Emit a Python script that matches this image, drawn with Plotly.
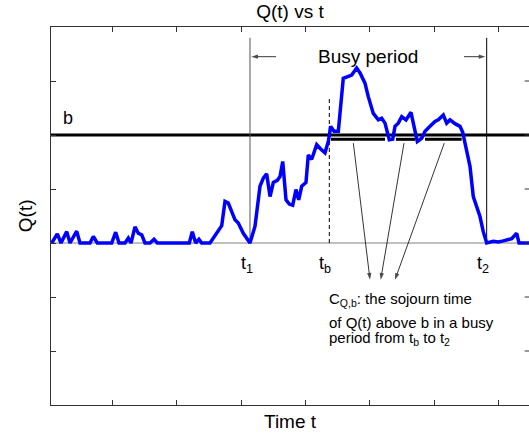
import plotly.graph_objects as go

# ---- data ----
t_vals = [6.1, 14.8, 20.5, 29.4, 34.5, 44.9, 50.0, 65.5, 70.7, 76.9, 99.2, 105.4, 110.6,
          119.9, 125.0, 129.2, 135.4, 140.5, 145.8, 150.9, 158.7, 164.9, 170.0, 219.7,
          224.3, 229.6, 234.7, 238.9, 251.8, 259.6, 270.0, 275.1, 280.2, 285.5, 290.6,
          295.7, 303.5, 313.9, 321.7, 329.4, 334.6, 339.8, 345.0, 350.1, 356.3, 360.5,
          364.7, 369.8, 374.9, 380.2, 385.3, 389.5, 394.2, 400.8, 404.4, 409.7, 417.4,
          423.6, 430.3, 435.5, 439.2, 444.3, 451.0, 458.7, 464.9, 471.8, 479.5, 484.7,
          492.4, 497.5, 505.3, 513.1, 518.3, 523.5, 530.1, 535.4, 539.0, 544.1, 549.4,
          556.1, 563.8, 570.0, 573.6, 580.4, 585.6, 593.3, 601.1, 606.2, 614.0, 619.2,
          624.4, 632.1, 639.9, 644.1, 650.3, 655.4, 660.5, 666.7, 670.9, 676.0, 681.3,
          691.6, 699.4, 707.1, 714.9, 720.2, 727.9, 731.5, 747.0]
q_vals = [0, 0.17, 0, 0.21, 0, 0.22, 0, 0, 0.12, 0, 0, 0.20, 0,
          0, 0.09, 0, 0.30, 0.18, 0.15, 0, 0, 0.07, 0, 0,
          0.21, 0, 0.07, 0, 0, 0.13, 0.32, 0.77, 0.74, 0.58, 0.43,
          0.37, 0.18, 0, 0.31, 1.05, 1.20, 1.28, 0.86, 1.12, 1.16, 1.23,
          1.51, 0.80, 0.72, 0.70, 0.99, 0.80, 1.05, 1.12, 1.63, 1.55, 1.82,
          1.74, 1.67, 1.88, 2.16, 2.07, 2.07, 3.05, 3.08, 3.11, 3.24, 3.15,
          2.96, 2.71, 2.40, 2.28, 2.31, 2.22, 1.91, 1.92, 2.16, 2.22, 2.34,
          2.28, 2.42, 2.05, 1.88, 1.94, 2.07, 2.16, 2.25, 2.28, 2.37, 2.22,
          2.28, 2.21, 2.16, 2.05, 1.67, 1.42, 0.86, 0.62, 0.49, 0.21, 0,
          0.03, 0.02, 0.04, 0.06, 0.08, 0.18, 0, 0]

b_level = 2
t1, tb, t2 = 313.9, 437.0, 681.3
vline_top = 3.8
tb_top = 2.7

seg_start = [439.6, 540.5, 585.6]
seg_end = [523.5, 570.0, 642.5]
seg_level = 1.92

arrow_tail_x = [474.3, 553.0, 615.5]
arrow_tail_y = 1.85
arrow_head_x = [500.2, 516.8, 539.0]
arrow_head_y = -0.68

busy_y = 3.45
busy_left_tail, busy_right_tail = 354.3, 646.1

x_range = [5, 747]
y_range = [-3, 4]
x_ticks = [100, 200, 300, 400, 500, 600, 700]
y_ticks = [-2, -1, 0, 1, 2, 3]

FONT = "Liberation Sans, Arial, Helvetica, sans-serif"
AX = "#333333"

fig = go.Figure()

# zero line and b threshold
fig.add_trace(go.Scatter(x=x_range, y=[0, 0], mode="lines",
                         line=dict(color="#808080", width=1), hoverinfo="skip", showlegend=False))
fig.add_trace(go.Scatter(x=x_range, y=[b_level, b_level], mode="lines",
                         line=dict(color="black", width=3), hoverinfo="skip", showlegend=False))

# vertical markers
fig.add_trace(go.Scatter(x=[t1, t1], y=[0, vline_top], mode="lines",
                         line=dict(color="#555555", width=1), showlegend=False))
fig.add_trace(go.Scatter(x=[t2, t2], y=[0, vline_top], mode="lines",
                         line=dict(color="black", width=1), showlegend=False))
fig.add_trace(go.Scatter(x=[tb, tb], y=[0, tb_top], mode="lines",
                         line=dict(color="black", width=1, dash="4px,3px"), showlegend=False))

# Q(t)
fig.add_trace(go.Scatter(x=t_vals, y=q_vals, mode="lines",
                         line=dict(color="#0000FF", width=3.5), showlegend=False))

# sojourn segments
for s, e in zip(seg_start, seg_end):
    fig.add_trace(go.Scatter(x=[s, e], y=[seg_level, seg_level], mode="lines",
                             line=dict(color="black", width=3), showlegend=False))


def arrow(x0, y0, x1, y1):
    fig.add_trace(go.Scatter(
        x=[x0, x1], y=[y0, y1], mode="lines+markers",
        line=dict(color="black", width=0.8),
        marker=dict(symbol=["circle", "arrow"], size=[0, 7], angleref="previous",
                    color="black", line=dict(width=0)),
        hoverinfo="skip", showlegend=False))


for tx, hx in zip(arrow_tail_x, arrow_head_x):
    arrow(tx, arrow_tail_y, hx, arrow_head_y)
arrow(busy_left_tail, busy_y, t1 + 2, busy_y)
arrow(busy_right_tail, busy_y, t2 - 2, busy_y)

ann = []
ann.append(dict(x=497, y=busy_y, xref="x", yref="y", text="Busy period", showarrow=False,
                font=dict(size=19, family=FONT, color="black")))
ann.append(dict(x=31, y=2.32, xref="x", yref="y", text="b", showarrow=False,
                font=dict(size=18, family=FONT, color="black")))
for lx, lab in zip([310, 430.4, 675.1], ["t<sub>1</sub>", "t<sub>b</sub>", "t<sub>2</sub>"]):
    ann.append(dict(x=lx, y=-0.4, xref="x", yref="y", text=lab, showarrow=False,
                    font=dict(size=18, family=FONT, color="black")))

lines_txt = ["C<sub>Q,b</sub>: the sojourn time", "of Q(t) above b in a busy",
             "period from t<sub>b</sub> to t<sub>2</sub>"]
for yy, txt in zip([-1.04, -1.47, -1.77], lines_txt):
    ann.append(dict(x=435, y=yy, xref="x", yref="y", text=txt, showarrow=False,
                    xanchor="left", yanchor="middle", borderpad=0,
                    font=dict(size=15, family=FONT, color="black")))

ann.append(dict(x=0.5, y=-0.044, xref="paper", yref="paper", text="Time t", showarrow=False,
                yanchor="middle", font=dict(size=19, family=FONT, color="black")))
ann.append(dict(x=-0.054, y=0.5, xref="paper", yref="paper", text="Q(t)", showarrow=False,
                textangle=-90, xanchor="center", yanchor="middle",
                font=dict(size=19, family=FONT, color="black")))

shapes = []
for yt in y_ticks:
    shapes.append(dict(type="line", xref="paper", yref="y", x0=0.991, x1=1.0, y0=yt, y1=yt,
                       line=dict(color=AX, width=1)))

fig.update_layout(
    width=529, height=436,
    margin=dict(l=51, r=0, t=27, b=31),
    paper_bgcolor="white", plot_bgcolor="white",
    title=dict(text="Q(t) vs t", x=0.5, xref="paper", xanchor="center",
               y=1 - 11 / 436, yref="container", yanchor="middle",
               font=dict(size=19, family=FONT, color="black")),
    xaxis=dict(range=x_range, tickvals=x_ticks, showticklabels=False, ticks="inside",
               ticklen=5, tickcolor=AX, showline=True, linecolor=AX, linewidth=1.2,
               mirror="allticks", showgrid=False, zeroline=False),
    yaxis=dict(range=y_range, tickvals=y_ticks, showticklabels=False, ticks="inside",
               ticklen=5, tickcolor=AX, showline=True, linecolor=AX, linewidth=1.2,
               mirror=False, showgrid=False, zeroline=False),
    annotations=ann, shapes=shapes,
)

fig.write_html("out.html", config={"displayModeBar": False},
               post_script="document.body.style.margin='0px';")
